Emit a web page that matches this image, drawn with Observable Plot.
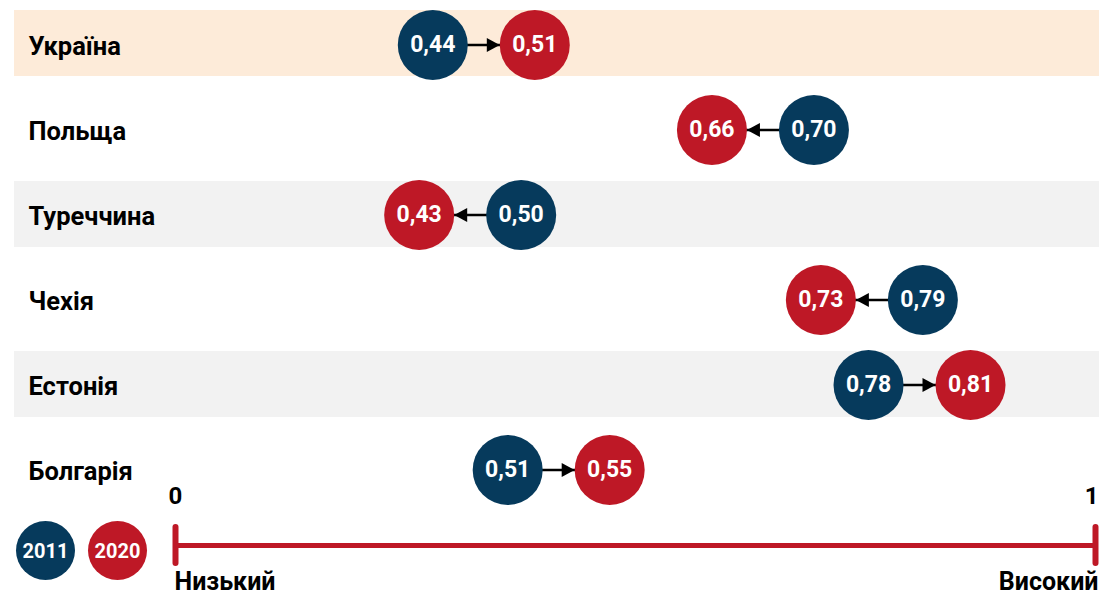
<!DOCTYPE html>
<html>
<head>
<meta charset="utf-8">
<script src="https://cdn.jsdelivr.net/npm/d3@7"></script>
<script src="https://cdn.jsdelivr.net/npm/@observablehq/plot@0.6"></script>
<style>
  body { margin: 0; background: #fff; font-family: Roboto, "Noto Sans", sans-serif; }
  #chart { position: relative; width: 1099px; height: 596px; overflow: hidden; background: #fff; }
  #main { position: absolute; left: 0; top: 0; }
  #axis { position: absolute; left: 0; top: 480px; }
  #legend { position: absolute; left: 16px; top: 521px; display: flex; gap: 13px; z-index: 2; }
  .lg { width: 59px; height: 59px; border-radius: 50%; color: #fff; font-weight: 700; font-size: 20px;
        display: flex; align-items: center; justify-content: center; font-family: Roboto, sans-serif; }
</style>
</head>
<body>
<div id="chart">
  <div id="main"></div>
  <div id="axis"></div>
  <div id="legend"></div>
</div>
<script>
// ---- data ----
const countries = ["Україна", "Польща", "Туреччина", "Чехія", "Естонія", "Болгарія"];
const values2011 = [0.44, 0.70, 0.50, 0.79, 0.78, 0.51];
const values2020 = [0.51, 0.66, 0.43, 0.73, 0.81, 0.55];
const years = ["2011", "2020"];
const axisTicks = [0, 1];
const axisEndLabels = ["Низький", "Високий"];

// ---- styles ----
const BLUE = "#063a5c", RED = "#be1826", PEACH = "#fdebd9", GRAY = "#f2f2f2";
const yearColor = {"2011": BLUE, "2020": RED};
const R = 35;            // circle radius (px)
const MIN_SEP = 102;     // minimal centre distance so the arrow stays visible (px)
const xDomain = [0.3, 0.9], xRange = [245, 1062];
const pxPerUnit = (xRange[1] - xRange[0]) / (xDomain[1] - xDomain[0]);
const fmt = v => d3.format(".2f")(v).replace(".", ",");

const rows = countries.map((country, i) => {
  const a = values2011[i], b = values2020[i];
  const dir = Math.sign(b - a) || 1;
  const mid = (a + b) / 2;
  const half = Math.max(Math.abs(b - a), MIN_SEP / pxPerUnit) / 2;
  return {country, i, v2011: a, v2020: b, dir, x2011: mid - dir * half, x2020: mid + dir * half};
});

const headRight = {draw(ctx) { ctx.moveTo(0, 0); ctx.lineTo(-13, -7); ctx.lineTo(-13, 7); ctx.closePath(); }};
const headLeft  = {draw(ctx) { ctx.moveTo(0, 0); ctx.lineTo(13, -7); ctx.lineTo(13, 7); ctx.closePath(); }};

const main = Plot.plot({
  width: 1099,
  height: 513,
  margin: 0,
  style: {background: "transparent", fontFamily: "Roboto, 'Noto Sans', sans-serif", overflow: "visible"},
  x: {domain: xDomain, range: xRange, axis: null},
  y: {type: "band", domain: countries, range: [0, 513], padding: 0, axis: null},
  marks: [
    Plot.cell(rows.filter(d => d.i === 0), {y: "country", fill: PEACH, insetLeft: 14, insetTop: 8, insetBottom: 11}),
    Plot.cell(rows.filter(d => d.i > 0 && d.i % 2 === 0), {y: "country", fill: GRAY, insetLeft: 14, insetTop: 9, insetBottom: 10}),
    Plot.link(rows, {x1: "x2011", x2: "x2020", y1: "country", y2: "country", stroke: "#000", strokeWidth: 2.5}),
    Plot.dot(rows.filter(d => d.dir > 0), {x: "x2020", y: "country", symbol: headRight, dx: -R, fill: "#000", stroke: null}),
    Plot.dot(rows.filter(d => d.dir < 0), {x: "x2020", y: "country", symbol: headLeft, dx: R, fill: "#000", stroke: null}),
    Plot.dot(rows, {x: "x2011", y: "country", r: R, fill: yearColor["2011"], stroke: null}),
    Plot.dot(rows, {x: "x2020", y: "country", r: R, fill: yearColor["2020"], stroke: null}),
    Plot.text(rows, {x: "x2011", y: "country", text: d => fmt(d.v2011), fill: "#fff", fontSize: 23, fontWeight: 700}),
    Plot.text(rows, {x: "x2020", y: "country", text: d => fmt(d.v2020), fill: "#fff", fontSize: 23, fontWeight: 700}),
    Plot.text(rows, {y: "country", text: "country", frameAnchor: "left", dx: 28, dy: 2, textAnchor: "start",
                     fill: "#000", fontSize: 25.5, fontWeight: 700})
  ]
});
document.getElementById("main").appendChild(main);

const endLabels = axisEndLabels.map((t, i) => ({t, v: axisTicks[i]}));
const axis = Plot.plot({
  width: 1099,
  height: 116,
  margin: 0,
  style: {background: "transparent", fontFamily: "Roboto, 'Noto Sans', sans-serif", overflow: "visible"},
  x: {domain: [0, 1], range: [175, 1095], axis: null},
  y: {domain: [-1, 1], range: [83, 47], axis: null},
  marks: [
    Plot.ruleY([0], {x1: axisTicks[0], x2: axisTicks[1], stroke: RED, strokeWidth: 5}),
    Plot.ruleX(axisTicks, {y1: -1, y2: 1, stroke: RED, strokeWidth: 6, strokeLinecap: "round"}),
    Plot.text(axisTicks.slice(0, 1), {x: d => d, y: 1, dy: -31, text: d => String(d), fill: "#000", fontSize: 24, fontWeight: 700}),
    Plot.text(axisTicks.slice(1), {x: d => d, y: 1, dy: -31, dx: 3, textAnchor: "end", text: d => String(d), fill: "#000", fontSize: 24, fontWeight: 700}),
    Plot.text(endLabels.slice(0, 1), {x: "v", y: -1, dy: 18, text: "t", textAnchor: "start", dx: -1, fill: "#000", fontSize: 25, fontWeight: 700}),
    Plot.text(endLabels.slice(1), {x: "v", y: -1, dy: 18, text: "t", textAnchor: "end", dx: 3, fill: "#000", fontSize: 25, fontWeight: 700})
  ]
});
document.getElementById("axis").appendChild(axis);

const legend = document.getElementById("legend");
years.forEach(y => {
  const el = document.createElement("div");
  el.className = "lg";
  el.style.background = yearColor[y];
  el.textContent = y;
  legend.appendChild(el);
});
</script>
</body>
</html>
